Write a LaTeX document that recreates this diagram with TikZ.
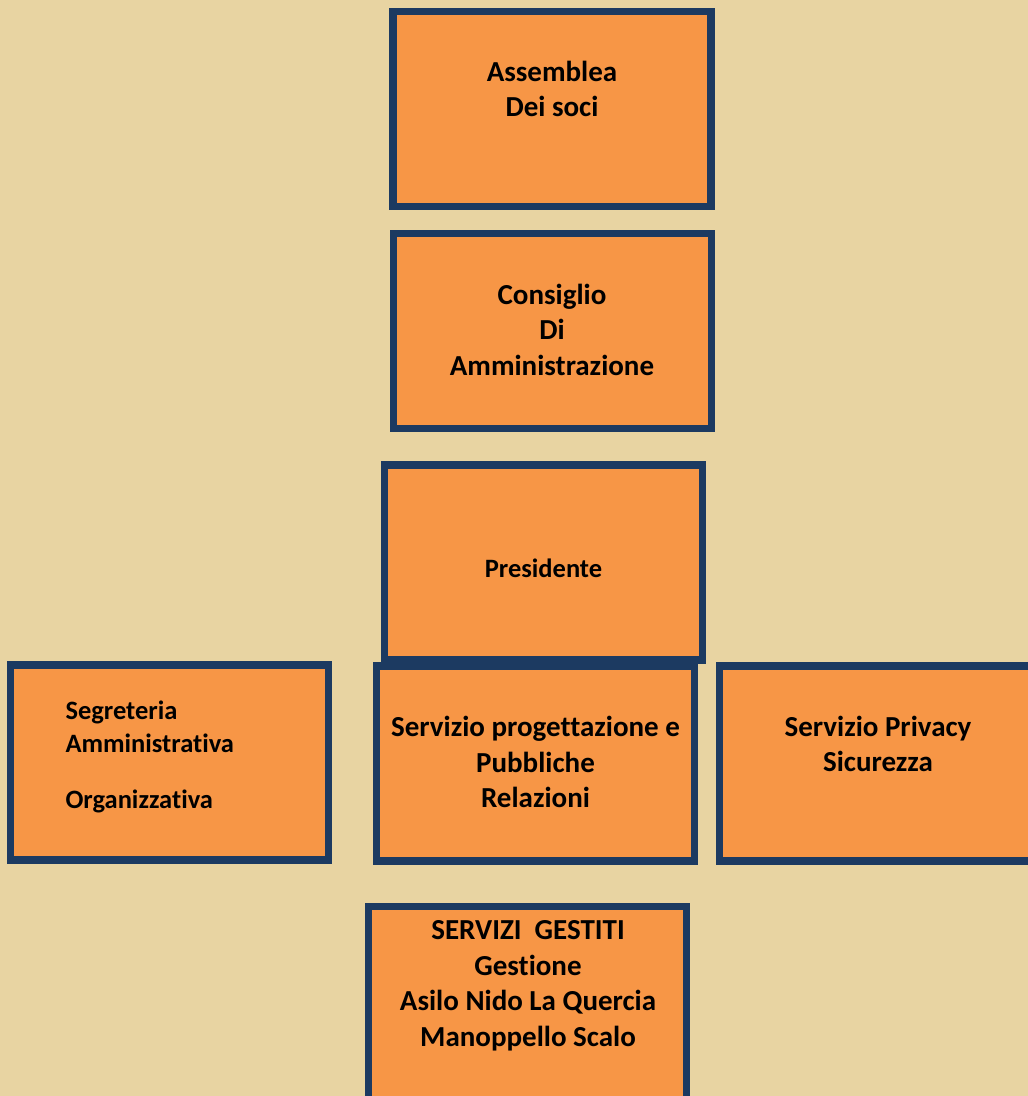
\documentclass[tikz,border=0pt]{standalone}
\usepackage{fontspec}
\setmainfont[Ligatures=NoCommon]{Carlito}
\definecolor{paper}{HTML}{E8D4A2}
\definecolor{boxorange}{HTML}{F79646}
\definecolor{boxblue}{HTML}{1C3A61}

\begin{document}
\begin{tikzpicture}[x=1pt,y=-1pt,
  box/.style={draw=boxblue, fill=boxorange, line width=7.5pt, inner sep=0pt,
    minimum width=318pt, minimum height=195pt},
  txt/.style={align=center, font=\fontsize{29}{35.5}\selectfont\bfseries},
  smalltxt/.style={align=left, font=\fontsize{26.5}{33}\selectfont\bfseries}]
\useasboundingbox (0,0) rectangle (1028,1096);
\clip (0,0) rectangle (1028,1096);
\fill[paper] (0,0) rectangle (1028,1096);
% boxes
\node[box] (assemblea) at (552,109) {};
\node[box] (consiglio) at (552.5,331) {};
\node[box] (presidente) at (543.5,562.5) {};
\node[box] (segreteria) at (169.5,762.5) {};
\node[box] (progetti) at (535.5,763.5) {};
\node[box] (privacy) at (878.5,763.5) {};
\node[box] (gestiti) at (527.5,1004) {};
% texts
\node[txt] (assembleaT) at (552,89) {Assemblea\\Dei soci};
\node[txt] (consiglioT) at (552,329.5) {Consiglio\\Di\\Amministrazione};
\node[txt, font=\fontsize{26.5}{33}\selectfont\bfseries] (presidenteT) at (543.5,568) {Presidente};
\node[smalltxt, anchor=west] (segreteriaT) at (62,757) {Segreteria\\Amministrativa\\[23pt]Organizzativa};
\node[txt] (progettiT) at (535.5,762) {Servizio progettazione e\\Pubbliche\\Relazioni};
\node[txt] (privacyT) at (878,744) {Servizio Privacy\\Sicurezza};
\node[txt] (gestitiT) at (528,986) {SERVIZI\ \ GESTITI\\Gestione\\Asilo Nido La Quercia\\Manoppello Scalo};
\end{tikzpicture}
\end{document}
